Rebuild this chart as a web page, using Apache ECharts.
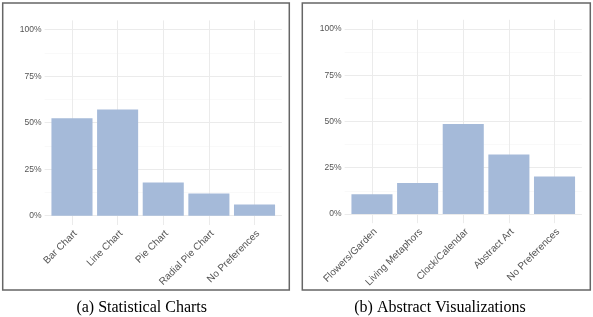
<!DOCTYPE html>
<html>
<head>
<meta charset="utf-8">
<script src="https://cdn.jsdelivr.net/npm/echarts@6/dist/echarts.min.js"></script>
<style>html,body{margin:0;padding:0;background:#fff;}#c{width:593px;height:317px;}</style>
</head>
<body>
<div id="c"></div>
<script>
var catsA = ['Bar Chart', 'Line Chart', 'Pie Chart', 'Radial Pie Chart', 'No Preferences'];
var valsA = [52.4, 57.1, 17.9, 11.9, 6.0];
var catsB = ['Flowers/Garden', 'Living Metaphors', 'Clock/Calendar', 'Abstract Art', 'No Preferences'];
var valsB = [10.6, 16.8, 48.6, 32.1, 20.2];
var yMajor = [0, 25, 50, 75, 100];
var yMinor = [12.5, 37.5, 62.5, 87.5];
var captions = ['(a) Statistical Charts', '(b) Abstract Visualizations'];

var barColor = '#a5bad9';
var majorLine = {color: '#ebebeb', width: 1, type: 'solid'};
var minorLine = {color: '#f5f5f5', width: 0.6, type: 'solid'};

function positions(cats) { return cats.map(function (c, i) { return i + 1; }); }

function gridLines(cats) {
  var d = [];
  yMajor.forEach(function (v) { d.push({yAxis: v, lineStyle: majorLine}); });
  yMinor.forEach(function (v) { d.push({yAxis: v, lineStyle: minorLine}); });
  positions(cats).forEach(function (p) { d.push({xAxis: p, lineStyle: majorLine}); });
  return d;
}

function xAxisFor(idx, cats) {
  return {
    type: 'value', gridIndex: idx, min: 0.4, max: 5.6,
    axisLine: {show: false}, axisTick: {show: false}, splitLine: {show: false},
    axisLabel: {
      customValues: positions(cats), rotate: 45, margin: 3.5, verticalAlign: 'top',
      fontSize: 10, color: '#555', fontFamily: 'Liberation Sans, Arial, sans-serif',
      formatter: function (v) { return cats[Math.round(v) - 1]; }
    }
  };
}
function yAxisFor(idx) {
  return {
    type: 'value', gridIndex: idx, min: -5, max: 105,
    axisLine: {show: false}, axisTick: {show: false}, splitLine: {show: false},
    axisLabel: {
      customValues: yMajor, margin: 3, fontSize: 8.5, color: '#555',
      fontFamily: 'Liberation Sans, Arial, sans-serif',
      formatter: function (v) { return v + '%'; }
    }
  };
}
function seriesFor(idx, cats, vals) {
  return {
    type: 'bar', xAxisIndex: idx, yAxisIndex: idx, barWidth: '90%', z: 2,
    itemStyle: {color: barColor},
    data: vals.map(function (v, i) { return [i + 1, v]; }),
    markLine: {silent: true, z: 1, symbol: 'none', label: {show: false},
      emphasis: {disabled: true}, animation: false, data: gridLines(cats)}
  };
}

var chart = echarts.init(document.getElementById('c'), null, {renderer: 'canvas'});
chart.setOption({
  animation: false,
  backgroundColor: '#fff',
  grid: [
    {left: 44.6, right: 311.1, top: 20.4, bottom: 92},
    {left: 344.6, right: 11.1, top: 19.8, bottom: 93.8}
  ],
  xAxis: [xAxisFor(0, catsA), xAxisFor(1, catsB)],
  yAxis: [yAxisFor(0), yAxisFor(1)],
  series: [seriesFor(0, catsA, valsA), seriesFor(1, catsB, valsB)],
  graphic: [
    {type: 'rect', shape: {x: 2.7, y: 3, width: 286.6, height: 287}, silent: true,
      style: {fill: 'none', stroke: '#666', lineWidth: 1.5}},
    {type: 'rect', shape: {x: 302.3, y: 3, width: 288, height: 287}, silent: true,
      style: {fill: 'none', stroke: '#666', lineWidth: 1.5}},
    {type: 'text', x: 141.7, y: 308, silent: true,
      style: {text: captions[0], fill: '#000', font: '16px "Liberation Serif", "Times New Roman", serif',
        textAlign: 'center', textVerticalAlign: 'middle'}},
    {type: 'text', x: 440, y: 308, silent: true,
      style: {text: captions[1], fill: '#000', font: '16px "Liberation Serif", "Times New Roman", serif',
        textAlign: 'center', textVerticalAlign: 'middle'}}
  ]
});
</script>
</body>
</html>
